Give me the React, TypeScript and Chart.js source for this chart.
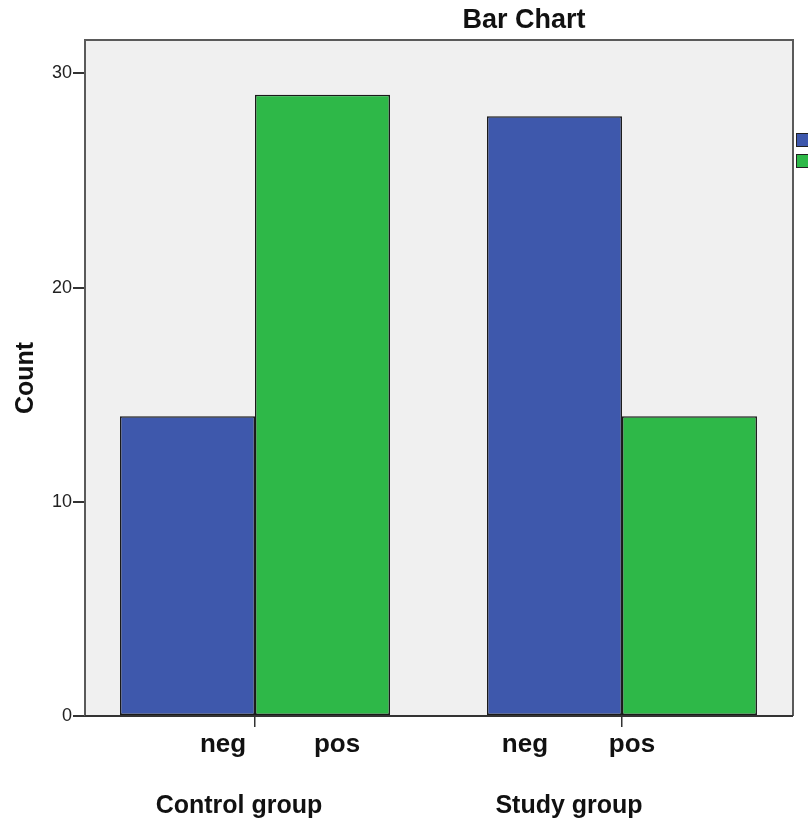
import { useEffect, useRef } from 'react';
import { Chart, registerables } from 'chart.js';

Chart.register(...registerables);

// ---- data ----
const chartTitle = 'Bar Chart';
const yTitle = 'Count';
const groups = ['Control group', 'Study group'];
const outcomeLabels = ['neg', 'pos'];
const negCounts = [14, 28];
const posCounts = [29, 14];
const yTicks = [0, 10, 20, 30];

// ---- style / layout ----
const BLUE = '#3E58AC';
const GREEN = '#2EB848';
const PLOT_BG = '#F0F0F0';
const FONT = '"Liberation Sans", Arial, sans-serif';
// label offsets (px) relative to each group's tick
const negOffsets = [-32, -97];
const posOffsets = [82, 10];
const groupOffsets = [-16, -53];

const decorPlugin = {
  id: 'decor',
  beforeDraw(chart: any) {
    const { ctx, chartArea: a } = chart;
    ctx.save();
    ctx.fillStyle = PLOT_BG;
    ctx.fillRect(a.left, a.top, a.right - a.left, a.bottom - a.top);
    ctx.restore();
  },
  afterDatasetsDraw(chart: any) {
    const { ctx, chartArea: a } = chart;
    const xs = chart.scales.x;
    ctx.save();
    // plot frame
    ctx.strokeStyle = '#5a5a5a';
    ctx.lineWidth = 2;
    ctx.beginPath();
    ctx.moveTo(a.left, a.bottom);
    ctx.lineTo(a.left, a.top);
    ctx.lineTo(a.right, a.top);
    ctx.lineTo(a.right, a.bottom);
    ctx.stroke();
    ctx.strokeStyle = '#333';
    ctx.beginPath();
    ctx.moveTo(a.left, a.bottom);
    ctx.lineTo(a.right, a.bottom);
    ctx.stroke();

    // title
    ctx.fillStyle = '#111';
    ctx.textAlign = 'center';
    ctx.textBaseline = 'alphabetic';
    ctx.font = `bold 27px ${FONT}`;
    ctx.fillText(chartTitle, 524, 28);

    // y title
    ctx.save();
    ctx.translate(33, (a.top + a.bottom) / 2);
    ctx.rotate(-Math.PI / 2);
    ctx.font = `bold 25px ${FONT}`;
    ctx.fillText(yTitle, 0, 0);
    ctx.restore();

    // x labels
    groups.forEach((g, i) => {
      const cx = xs.getPixelForValue(i);
      ctx.font = `bold 26px ${FONT}`;
      ctx.fillText(outcomeLabels[0], cx + negOffsets[i], a.bottom + 36);
      ctx.fillText(outcomeLabels[1], cx + posOffsets[i], a.bottom + 36);
      ctx.font = `bold 25px ${FONT}`;
      ctx.fillText(g, cx + groupOffsets[i], a.bottom + 97);
    });

    // clipped legend swatches
    const sw = [BLUE, GREEN];
    sw.forEach((c, i) => {
      const y = a.top + 93 + i * 21;
      ctx.fillStyle = c;
      ctx.fillRect(a.right + 3, y, 16, 13);
      ctx.strokeStyle = '#222';
      ctx.lineWidth = 1;
      ctx.strokeRect(a.right + 3.5, y + 0.5, 16, 13);
    });
    ctx.restore();
  },
};

export default function App() {
  const ref = useRef<HTMLCanvasElement>(null);

  useEffect(() => {
    document.body.style.margin = '0';
    document.body.style.overflow = 'hidden';
    const chart = new Chart(ref.current!, {
      type: 'bar',
      data: {
        datasets: [
          {
            label: outcomeLabels[0],
            data: negCounts.map((v, i) => ({ x: i, y: v })),
            backgroundColor: BLUE,
            borderColor: '#1a1a1a',
            borderWidth: 1.5,
            borderSkipped: false,
          },
          {
            label: outcomeLabels[1],
            data: posCounts.map((v, i) => ({ x: i, y: v })),
            backgroundColor: GREEN,
            borderColor: '#1a1a1a',
            borderWidth: 1.5,
            borderSkipped: false,
          },
        ],
      },
      options: {
        animation: false,
        responsive: true,
        maintainAspectRatio: false,
        layout: { padding: { top: 40, right: 15, left: 0, bottom: 0 } },
        datasets: { bar: { categoryPercentage: 0.7357, barPercentage: 1 } },
        plugins: {
          legend: { display: false },
          title: { display: false },
          tooltip: { enabled: false },
        },
        scales: {
          x: {
            type: 'linear',
            min: -0.4632,
            max: 1.466,
            offset: false,
            afterBuildTicks: (axis: any) => {
              axis.ticks = groups.map((_, i) => ({ value: i }));
            },
            afterFit: (axis: any) => {
              axis.height = 105;
            },
            ticks: { callback: () => '', padding: 0 },
            grid: {
              offset: false,
              drawOnChartArea: false,
              drawTicks: true,
              tickLength: 11,
              color: '#333',
              lineWidth: 1.5,
            },
            border: { display: false },
          },
          y: {
            min: 0,
            max: 31.56,
            afterBuildTicks: (axis: any) => {
              axis.ticks = yTicks.map((v) => ({ value: v }));
            },
            afterFit: (axis: any) => {
              axis.width = 85;
            },
            ticks: {
              padding: 1,
              color: '#222',
              font: { family: FONT, size: 18 },
            },
            grid: {
              drawOnChartArea: false,
              drawTicks: true,
              tickLength: 12,
              color: '#333',
              lineWidth: 2,
            },
            border: { display: false },
          },
        },
      },
      plugins: [decorPlugin],
    } as any);
    return () => chart.destroy();
  }, []);

  return (
    <div style={{ position: 'relative', width: 808, height: 821 }}>
      <canvas ref={ref} />
    </div>
  );
}
